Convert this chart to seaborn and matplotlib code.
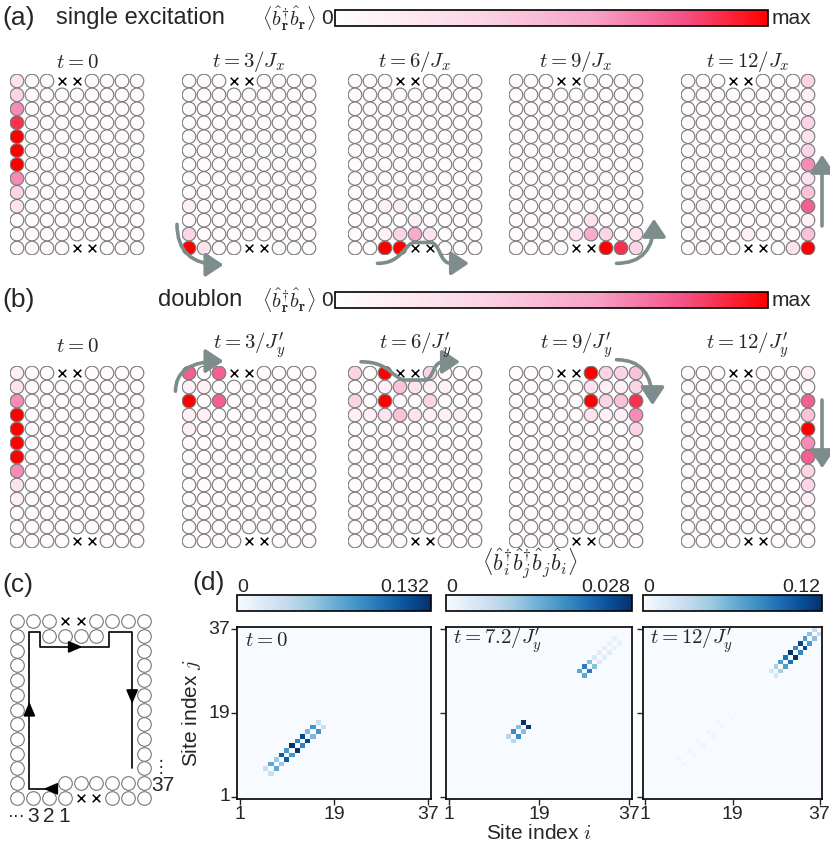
import numpy as np
import pandas as pd
import matplotlib
matplotlib.use("Agg")
import matplotlib.pyplot as plt
import seaborn as sns
from matplotlib.colors import LinearSegmentedColormap
from matplotlib.patches import FancyArrowPatch
from matplotlib.path import Path

sns.set_theme(style="white")
plt.rcParams["font.family"] = ["Liberation Sans", "DejaVu Sans"]
plt.rcParams["mathtext.fontset"] = "cm"

# 9 x 13 lattice, 'x' = removed site, digit = density level (9 = max)
levels = [0.03, 0.12, 0.22, 0.33, 0.44, 0.55, 0.66, 0.77, 0.88, 1.0]

single_t0 = ["200xx0000", "300000000", "600000000", "800000000", "900000000",
             "900000000", "900000000", "600000000", "300000000", "200000000",
             "000000000", "000000000", "0000xx000"]
single_t3 = ["000xx0000", "000000000", "000000000", "000000000", "000000000",
             "000000000", "000000000", "000000000", "000000000", "100000000",
             "000000000", "300000000", "9200xx000"]
single_t6 = ["000xx0000", "000000000", "000000000", "000000000", "000000000",
             "000000000", "000000000", "000000000", "000000000", "001100000",
             "000010000", "001352000", "0099xx000"]
single_t9 = ["000xx0000", "000000000", "000000000", "000000000", "000000000",
             "000000000", "000000000", "000000000", "000000000", "000000000",
             "000002000", "000025302", "0000xx983"]
single_t12 = ["000xx0003", "000000001", "000000001", "000000003", "000000002",
              "000000003", "000000006", "000000002", "000000004", "010000007",
              "000000001", "000010004", "0000xx029"]

doublon_t0 = ["100xx0000", "200000000", "600000000", "900000000", "900000000",
              "900000000", "900000000", "600000000", "200000000", "100000000",
              "000000000", "000000000", "0000xx000"]
doublon_t3 = ["707xx0000", "110000000", "907000000", "110000000", "100000000",
              "000000000", "000000000", "000000000", "000000000", "000000000",
              "000000000", "000000000", "0000xx000"]
doublon_t6 = ["309xx3000", "001421100", "309003000", "112421110", "000000000",
              "000000000", "000000000", "000000000", "000000000", "000000000",
              "000000000", "000000000", "0000xx000"]
doublon_t9 = ["000xx9334", "000002113", "000009348", "000002116", "000000003",
              "000000000", "000000000", "000000000", "000000000", "000000000",
              "000000000", "000000000", "0000xx000"]
doublon_t12 = ["000xx0001", "000000000", "000000007", "000000004", "000000009",
               "000000006", "000000007", "000000003", "000000003", "000000001",
               "000000000", "000000000", "0000xx000"]

single_titles = [r"$t=0$", r"$t=3/J_x$", r"$t=6/J_x$", r"$t=9/J_x$", r"$t=12/J_x$"]
doublon_titles = [r"$t=0$", r"$t=3/J_y'$", r"$t=6/J_y'$", r"$t=9/J_y'$", r"$t=12/J_y'$"]

# panel (d): correlation <b_i+ b_j+ b_j b_i>, entries (i, j=i+1) mirrored
d_titles = [r"$t=0$", r"$t=7.2/J_y'$", r"$t=12/J_y'$"]
d_vmax = [0.132, 0.028, 0.12]
d0_i = [6, 7, 8, 9, 10, 11, 12, 13, 14, 15, 16]
d0_v = [0.03, 0.07, 0.05, 0.11, 0.08, 0.132, 0.09, 0.12, 0.06, 0.08, 0.03]
d1_i = [13, 14, 15, 16, 27, 28, 29, 30, 31, 32, 33, 34]
d1_v = [0.008, 0.018, 0.012, 0.028, 0.015, 0.02, 0.012, 0.004, 0.003, 0.003, 0.002, 0.002]
d2_i = [8, 10, 12, 14, 16, 18, 27, 28, 29, 30, 31, 32, 33, 34, 35, 36]
d2_v = [0.004, 0.005, 0.005, 0.005, 0.004, 0.003, 0.02, 0.04, 0.07, 0.09, 0.12, 0.08, 0.11, 0.07, 0.05, 0.03]

red_cmap = LinearSegmentedColormap.from_list(
    "dens", [(0, "#ffffff"), (0.35, "#fbd2e4"), (0.6, "#f7a2c7"), (0.8, "#f4548a"), (1, "#ff0000")])
arrow_gray = "#7d8d8c"

W, H = 830, 842
fig = plt.figure(figsize=(W / 100, H / 100), dpi=100)


def px_axes(x0, y0, x1, y1):
    return fig.add_axes([x0 / W, 1 - y1 / H, (x1 - x0) / W, (y1 - y0) / H])


def draw_lattice(ax, rows):
    recs = [(c, r, ch) for r, line in enumerate(rows) for c, ch in enumerate(line)]
    df = pd.DataFrame(recs, columns=["col", "row", "code"])
    sites = df[df.code != "x"].copy()
    sites["val"] = [levels[int(d)] for d in sites.code]
    holes = df[df.code == "x"]
    sns.scatterplot(data=sites, x="col", y="row", hue="val", palette=red_cmap,
                    hue_norm=(0, 1), s=96, edgecolor="#777777", linewidth=0.8,
                    legend=False, ax=ax)
    ax.scatter(holes.col, holes.row, marker="x", color="black", s=30, linewidths=1.1)
    ax.set_xlim(-0.5, 8.5)
    ax.set_ylim(12.5, -0.5)
    ax.axis("off")


def add_arrow(ax, verts, codes):
    p = FancyArrowPatch(path=Path(verts, codes), arrowstyle="-|>,head_length=0.6,head_width=0.4",
                        mutation_scale=18, lw=2.6, color=arrow_gray, clip_on=False,
                        transform=ax.transData)
    ax.add_patch(p)


M, L, C3, C4 = Path.MOVETO, Path.LINETO, Path.CURVE3, Path.CURVE4
single_arrows = [
    None,
    ([(-0.8, 10.3), (-0.8, 13.2), (2.3, 13.2)], [M, C3, C3]),
    ([(1.5, 13.1), (3.2, 13.1), (3.3, 11.6), (4.0, 11.6), (5.0, 11.6),
      (5.7, 11.6), (5.6, 13.1), (6.4, 13.1), (7.6, 13.1)], [M, C4, C4, C4, L, C4, C4, C4, L]),
    ([(6.7, 13.1), (9.2, 13.1), (9.2, 9.9)], [M, C3, C3]),
    ([(8.95, 10.4), (8.95, 5.3)], [M, L]),
]
doublon_arrows = [
    None,
    ([(-0.9, 1.3), (-0.9, -0.85), (2.3, -0.85)], [M, C3, C3]),
    ([(0.4, -0.8), (2.4, -0.8), (2.5, 0.5), (3.4, 0.5), (4.6, 0.5),
      (5.3, 0.5), (5.1, -0.8), (5.9, -0.8), (7.0, -0.8)], [M, C4, C4, C4, L, C4, C4, C4, L]),
    ([(6.7, -0.95), (9.1, -0.95), (9.1, 2.3)], [M, C3, C3]),
    ([(8.95, 1.9), (8.95, 6.8)], [M, L]),
]

col0_x = [17, 189, 355, 516, 688]

for k in range(5):
    x0 = col0_x[k] - 7.5
    ax = px_axes(x0, 74, x0 + 135, 255)
    draw_lattice(ax, [single_t0, single_t3, single_t6, single_t9, single_t12][k])
    if single_arrows[k]:
        add_arrow(ax, *single_arrows[k])
    fig.text((col0_x[k] + 60) / W, 1 - 62 / H, single_titles[k], ha="center", va="center", fontsize=15)

    ax = px_axes(x0, 366, x0 + 135, 548)
    draw_lattice(ax, [doublon_t0, doublon_t3, doublon_t6, doublon_t9, doublon_t12][k])
    if doublon_arrows[k]:
        add_arrow(ax, *doublon_arrows[k])
    fig.text((col0_x[k] + 60) / W, 1 - 346 / H, doublon_titles[k], ha="center", va="center", fontsize=15)

# headers with colour bars
dens_label = r"$\langle\hat{b}^{\dagger}_{\mathbf{r}}\hat{b}_{\mathbf{r}}\rangle$"
for y, lab, name, nx in [(18, "(a)", "single excitation", 140), (300, "(b)", "doublon", 200)]:
    fig.text(2 / W, 1 - y / H, lab, ha="left", va="center", fontsize=19)
    fig.text(nx / W, 1 - y / H, name, ha="center", va="center", fontsize=17)
    fig.text(289 / W, 1 - (y + 1) / H, dens_label, ha="center", va="center", fontsize=14.5)
    fig.text(327 / W, 1 - y / H, "0", ha="center", va="center", fontsize=15)
    fig.text(772 / W, 1 - y / H, "max", ha="left", va="center", fontsize=15)
    cax = px_axes(335, y - 8, 768, y + 8)
    cb = fig.colorbar(plt.cm.ScalarMappable(cmap=red_cmap), cax=cax, orientation="horizontal")
    cb.set_ticks([])
    cb.outline.set_linewidth(1.2)
    cb.outline.set_edgecolor("black")

# panel (c): indexing schematic
fig.text(2 / W, 1 - 585 / H, "(c)", ha="left", va="center", fontsize=19)
axc = px_axes(9, 614, 152, 805)
c_cols, c_rows = [], []
for c in range(9):
    if c not in (3, 4):
        c_cols.append(c); c_rows.append(0)
    if c not in (4, 5):
        c_cols.append(c); c_rows.append(12)
for r in range(1, 12):
    c_cols += [0, 8]; c_rows += [r, r]
for c in [2, 3, 4, 5]:
    c_cols.append(c); c_rows.append(1)
for c in [3, 4, 5, 6, 7]:
    c_cols.append(c); c_rows.append(11)
sns.scatterplot(x=c_cols, y=c_rows, color="white", s=96, edgecolor="#777777", linewidth=0.8, ax=axc)
axc.scatter([3, 4, 4, 5], [0, 0, 12, 12], marker="x", color="black", s=30, linewidths=1.1)
path_x = [2.48, 0.78, 0.78, 1.43, 1.43, 5.78, 5.78, 7.25, 7.25]
path_y = [11.4, 11.4, 0.72, 0.72, 1.74, 1.74, 0.72, 0.72, 10.0]
axc.plot(path_x, path_y, color="black", lw=1.2)
for (xa, ya), (xb, yb) in [((2.2, 11.4), (1.5, 11.4)), ((0.78, 6.0), (0.78, 5.3)),
                            ((3.6, 1.74), (4.3, 1.74)), ((7.25, 5.0), (7.25, 5.8))]:
    axc.annotate("", xy=(xb, yb), xytext=(xa, ya),
                 arrowprops=dict(arrowstyle="-|>,head_length=0.7,head_width=0.3", color="black", lw=1.2))
for c, t in [(1, "3"), (2, "2"), (3, "1")]:
    axc.text(c, 13.3, t, ha="center", va="center", fontsize=15)
axc.text(0.0, 13.3, "···", ha="center", va="center", fontsize=13)
axc.text(8.45, 11.15, "37", ha="left", va="center", fontsize=15)
axc.text(9.05, 9.95, "⋮", ha="center", va="center", fontsize=12)
axc.set_xlim(-0.5, 8.5)
axc.set_ylim(12.5, -0.5)
axc.axis("off")

# panel (d): correlation maps
fig.text(192 / W, 1 - 583 / H, "(d)", ha="left", va="center", fontsize=19)
fig.text(530 / W, 1 - 564 / H, r"$\langle\hat{b}^{\dagger}_i\hat{b}^{\dagger}_j\hat{b}_j\hat{b}_i\rangle$",
         ha="center", va="center", fontsize=16)
d_box = [(237, 431), (446, 632), (643, 822)]
n = 37
for k, (ii, vv) in enumerate([(d0_i, d0_v), (d1_i, d1_v), (d2_i, d2_v)]):
    mat = np.zeros((n, n))
    for i, v in zip(ii, vv):
        mat[i, i - 1] = v
        mat[i - 1, i] = v
    df = pd.DataFrame(mat[::-1], index=np.arange(n, 0, -1), columns=np.arange(1, n + 1))
    xl, xr = d_box[k]
    ax = px_axes(xl, 627, xr, 799)
    cax = px_axes(xl, 595, xr, 611)
    sns.heatmap(df, cmap="Blues", vmin=0, vmax=d_vmax[k], ax=ax, cbar_ax=cax,
                cbar_kws={"orientation": "horizontal"}, square=False)
    cb = ax.collections[0].colorbar
    cb.set_ticks([])
    cb.outline.set_linewidth(1.2)
    cb.outline.set_edgecolor("black")
    fig.text((xl + 6) / W, 1 - 587 / H, "0", ha="center", va="center", fontsize=14)
    fig.text((xr - 2) / W, 1 - 587 / H, f"{d_vmax[k]:g}", ha="right", va="center", fontsize=14)
    for s in ax.spines.values():
        s.set_visible(True)
        s.set_linewidth(1.2)
        s.set_edgecolor("black")
    ax.set_xticks([0.5, 18.5, 36.5])
    ax.set_xticklabels(["1", "19", "37"], rotation=0, fontsize=14)
    ax.set_yticks([0.5, 18.5, 36.5])
    if k == 0:
        ax.set_yticklabels(["37", "19", "1"], rotation=0, fontsize=14)
        ax.set_ylabel("Site index $j$", fontsize=15)
    else:
        ax.set_yticklabels([])
        ax.set_ylabel("")
    ax.set_xlabel("Site index $i$" if k == 1 else "", fontsize=15, labelpad=1)
    ax.tick_params(left=True, bottom=True, length=4, width=1, pad=1)
    ax.text(0.04, 0.92, d_titles[k], transform=ax.transAxes, ha="left", va="center", fontsize=15)

fig.savefig("out.png", dpi=100)
